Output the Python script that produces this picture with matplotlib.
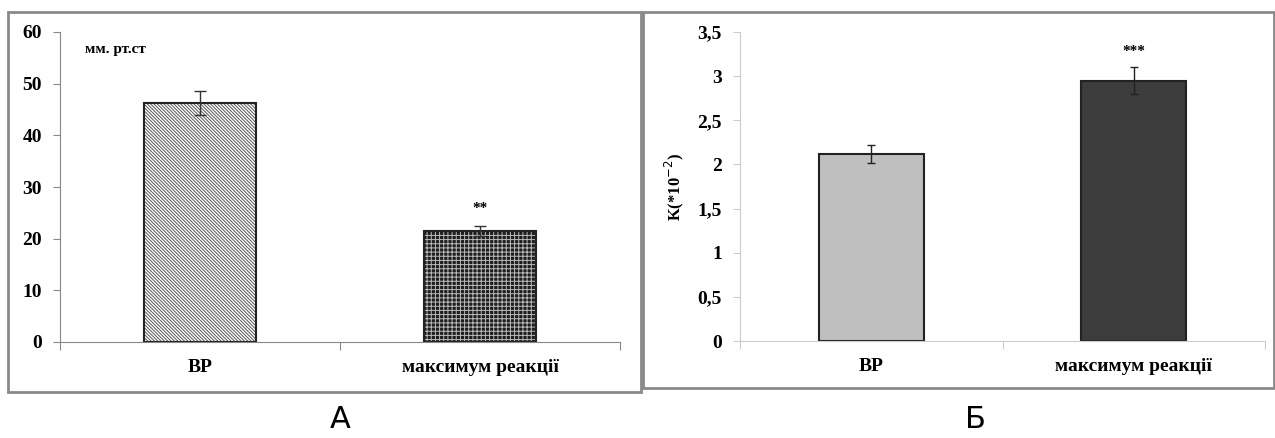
import numpy as np
import matplotlib.pyplot as plt
from matplotlib.patches import Rectangle

# data
categories = ['ВР', 'максимум реакції']
pressure = [46.2, 21.5]
pressure_err = [2.3, 1.0]
pressure_marks = ['', '**']

coef = [2.12, 2.95]
coef_err = [0.1, 0.15]
coef_marks = ['', '***']

plt.rcParams['font.family'] = ['Liberation Serif', 'DejaVu Serif']
plt.rcParams['hatch.linewidth'] = 0.7

fig = plt.figure(figsize=(12.75, 4.38), dpi=100)
W, H = 1275, 438

def fbox(x0, y0, x1, y1):
    # pixel box -> figure coords
    return [x0 / W, 1 - y1 / H, (x1 - x0) / W, (y1 - y0) / H]

# panel frames
for (x0, y0, x1, y1) in [(8, 12, 641, 392), (643, 12, 1274, 388)]:
    fig.patches.append(Rectangle((x0 / W, 1 - y1 / H), (x1 - x0) / W, (y1 - y0) / H,
                                 transform=fig.transFigure, fill=False,
                                 edgecolor='#8a8a8a', linewidth=2))

xpos = np.arange(len(categories)) + 0.5

# Panel A
ax1 = fig.add_axes(fbox(60, 32, 620, 342))
ax1.bar(xpos[0], pressure[0], 0.4, color='white', hatch='\\' * 10, edgecolor='#555555', linewidth=0)
ax1.bar(xpos[1], pressure[1], 0.4, color='#1e1e1e', hatch='++++', edgecolor='#bbbbbb', linewidth=0)
ax1.bar(xpos, pressure, 0.4, fill=False, edgecolor='#222222', linewidth=1.5)
ax1.errorbar(xpos, pressure, yerr=pressure_err, fmt='none', ecolor='#333333', capsize=4, elinewidth=1)
for x, v, e, m in zip(xpos, pressure, pressure_err, pressure_marks):
    if m:
        ax1.text(x, v + e + 2.0, m, ha='center', va='bottom', fontsize=11, fontweight='bold')
ax1.set_ylim(0, 60)
ax1.set_xlim(0, 2)
ax1.set_yticks(np.arange(0, 61, 10))
ax1.set_yticklabels([str(v) for v in range(0, 61, 10)], fontsize=14, fontweight='bold')
ax1.text(0.045, 0.965, 'мм. рт.ст', transform=ax1.transAxes, fontsize=11, fontweight='bold', va='top')

# Panel Б
ax2 = fig.add_axes(fbox(740, 32, 1265, 341))
ax2.bar(xpos[0], coef[0], 0.4, color='#bfbfbf', edgecolor='#222222', linewidth=1.5)
ax2.bar(xpos[1], coef[1], 0.4, color='#3c3c3c', edgecolor='#222222', linewidth=1.5)
ax2.errorbar(xpos, coef, yerr=coef_err, fmt='none', ecolor='#222222', capsize=3, elinewidth=1)
for x, v, e, m in zip(xpos, coef, coef_err, coef_marks):
    if m:
        ax2.text(x, v + e + 0.1, m, ha='center', va='bottom', fontsize=11, fontweight='bold')
ax2.set_ylim(0, 3.5)
ax2.set_xlim(0, 2)
yt = np.arange(0, 3.51, 0.5)
ax2.set_yticks(yt)
ax2.set_yticklabels([('%g' % v).replace('.', ',') for v in yt], fontsize=14, fontweight='bold')
ax2.set_ylabel('K(*10$^{-2}$)', fontsize=12, fontweight='bold', labelpad=8)

for ax, sc in [(ax1, '#888888'), (ax2, '#cccccc')]:
    ax.set_facecolor('none')
    for s in ['top', 'right']:
        ax.spines[s].set_visible(False)
    ax.spines['left'].set_color(sc)
    ax.spines['bottom'].set_color(sc)
    ax.set_xticks([0, 1, 2])
    ax.set_xticklabels([])
    ax.set_xticks(xpos, minor=True)
    ax.set_xticklabels(categories, minor=True, fontsize=14, fontweight='bold')
    ax.tick_params(axis='x', which='major', length=6, color=sc, direction='out')
    ax.tick_params(axis='x', which='minor', length=0, pad=12)
    ax.tick_params(axis='y', length=5, color=sc, pad=8)

# panel letters
for x, lab in [(340, 'А'), (975, 'Б')]:
    fig.text(x / W, 1 - 420 / H, lab, ha='center', va='center', fontsize=22,
             family=['Liberation Sans Narrow', 'DejaVu Sans'])

fig.savefig('out.png', dpi=100)
